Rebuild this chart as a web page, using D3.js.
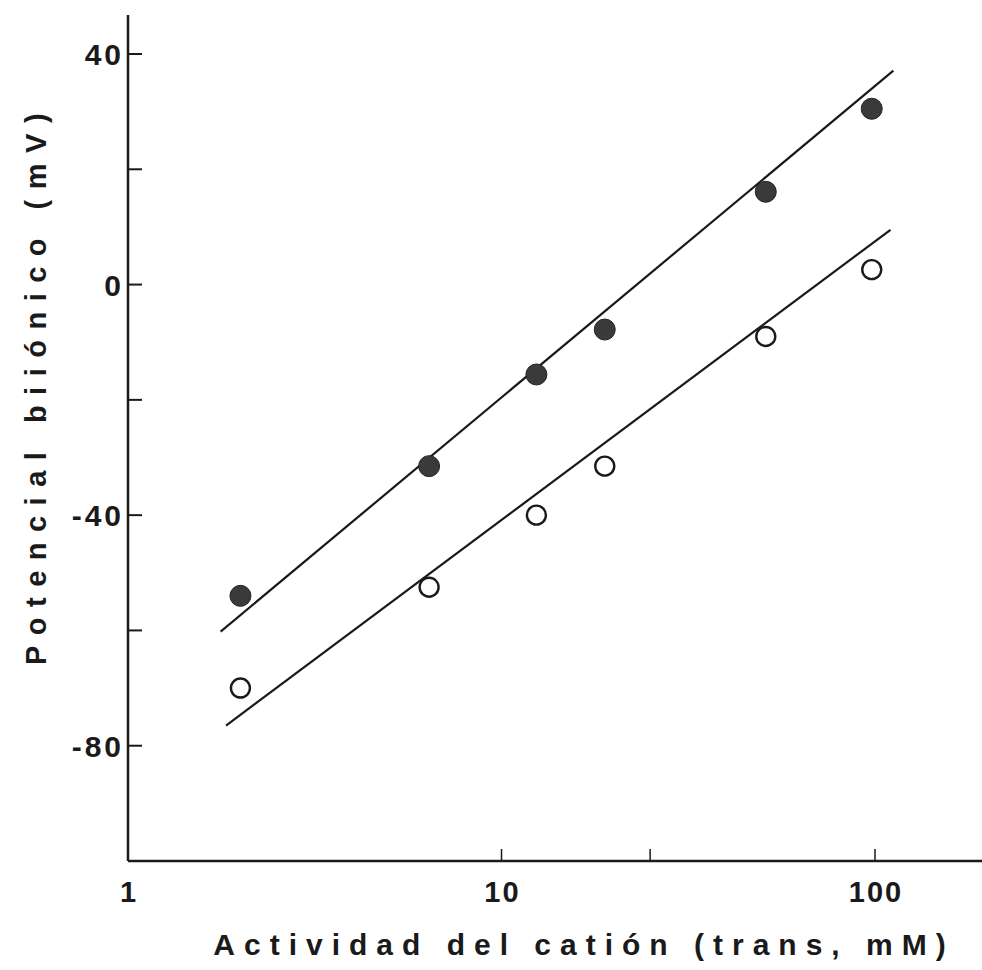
<!DOCTYPE html>
<html>
<head>
<meta charset="utf-8">
<script src="https://cdn.jsdelivr.net/npm/d3@7"></script>
<style>
  body { margin: 0; background: #fff; }
  svg text { font-family: "Liberation Sans", Arial, sans-serif; font-weight: bold; fill: #1a1a1a; }
</style>
</head>
<body>
<svg id="chart" width="982" height="970"></svg>
<script>
// activity of the cation (mM), same for both series
var actividad = [2, 6.4, 12.4, 18.9, 51, 98];
// filled circles
var potLleno = [-54, -31.5, -15.6, -7.8, 16.1, 30.5];
// open circles
var potVacio = [-70, -52.5, -40, -31.5, -9, 2.6];

// fitted lines (end points)
var ajusteLlenoX = [1.77, 112];
var ajusteLlenoY = [-60.2, 37.1];
var ajusteVacioX = [1.83, 110];
var ajusteVacioY = [-76.5, 9.5];

var yTicks = [40, 20, 0, -20, -40, -60, -80];
var yLabels = [40, 0, -40, -80];
var xTicks = [1, 10, 25, 100];
var xLabels = [1, 10, 100];

var svg = d3.select("#chart");

var x = d3.scaleLog().domain([1, 100]).range([128, 875]);
var y = d3.scaleLinear().domain([-100, 40]).range([861, 54]);

// axes lines
svg.append("line")
    .attr("x1", x(1)).attr("x2", 982)
    .attr("y1", y(-100)).attr("y2", y(-100))
    .attr("stroke", "#1a1a1a").attr("stroke-width", 2.5);
svg.append("line")
    .attr("x1", x(1)).attr("x2", x(1))
    .attr("y1", 15).attr("y2", y(-100))
    .attr("stroke", "#1a1a1a").attr("stroke-width", 2.5);

// y ticks (inward)
svg.append("g").selectAll("line")
    .data(yTicks)
    .join("line")
    .attr("x1", x(1)).attr("x2", x(1) + 14)
    .attr("y1", d => y(d)).attr("y2", d => y(d))
    .attr("stroke", "#1a1a1a").attr("stroke-width", 2);

svg.append("g").selectAll("text")
    .data(yLabels)
    .join("text")
    .attr("x", x(1) - 4)
    .attr("y", d => y(d) + 11)
    .attr("text-anchor", "end")
    .attr("font-size", 30)
    .attr("letter-spacing", 3)
    .text(d => d < 0 ? "-" + Math.abs(d) : d);

// x ticks (inward)
svg.append("g").selectAll("line")
    .data(xTicks.slice(1))
    .join("line")
    .attr("x1", d => x(d)).attr("x2", d => x(d))
    .attr("y1", y(-100)).attr("y2", y(-100) - 12)
    .attr("stroke", "#1a1a1a").attr("stroke-width", 1.5);

svg.append("g").selectAll("text")
    .data(xLabels)
    .join("text")
    .attr("x", d => x(d) + 1)
    .attr("y", 902)
    .attr("text-anchor", "middle")
    .attr("font-size", 29)
    .attr("letter-spacing", 2)
    .text(d => d);

// axis titles
svg.append("text")
    .attr("x", 584).attr("y", 955)
    .attr("text-anchor", "middle")
    .attr("font-size", 30)
    .attr("letter-spacing", 9)
    .text("Actividad del catión (trans, mM)");

svg.append("text")
    .attr("transform", "translate(46,384) rotate(-90)")
    .attr("text-anchor", "middle")
    .attr("font-size", 29)
    .attr("letter-spacing", 10.5)
    .text("Potencial biiónico (mV)");

// fitted lines
var linea = d3.line().x(d => x(d[0])).y(d => y(d[1]));
svg.append("path")
    .datum(d3.zip(ajusteLlenoX, ajusteLlenoY))
    .attr("d", linea)
    .attr("fill", "none").attr("stroke", "#1a1a1a").attr("stroke-width", 2.2);
svg.append("path")
    .datum(d3.zip(ajusteVacioX, ajusteVacioY))
    .attr("d", linea)
    .attr("fill", "none").attr("stroke", "#1a1a1a").attr("stroke-width", 2.2);

// points
svg.append("g").selectAll("circle")
    .data(d3.zip(actividad, potLleno))
    .join("circle")
    .attr("cx", d => x(d[0])).attr("cy", d => y(d[1]))
    .attr("r", 10.5)
    .attr("fill", "#3a3a3a")
    .attr("stroke", "#222").attr("stroke-width", 1);

svg.append("g").selectAll("circle")
    .data(d3.zip(actividad, potVacio))
    .join("circle")
    .attr("cx", d => x(d[0])).attr("cy", d => y(d[1]))
    .attr("r", 9.5)
    .attr("fill", "none")
    .attr("stroke", "#1a1a1a").attr("stroke-width", 2.4);
</script>
</body>
</html>
